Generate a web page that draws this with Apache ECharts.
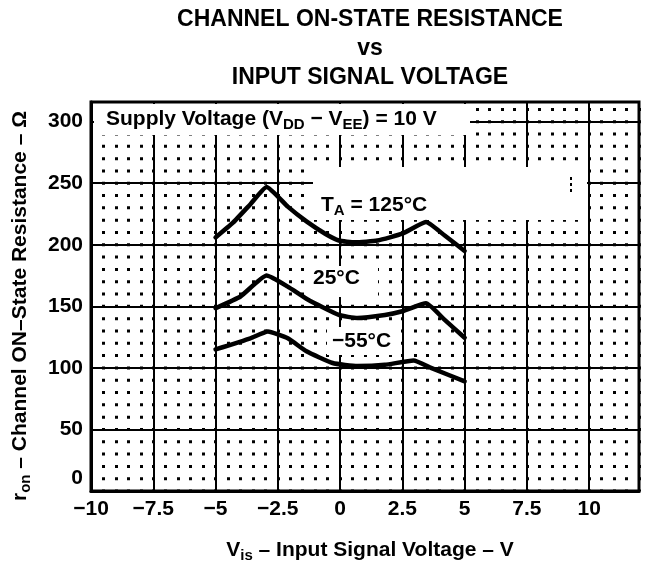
<!DOCTYPE html>
<html lang="en">
  <head>
    <meta charset="UTF-8" />
    <title>Channel ON-State Resistance vs Input Signal Voltage</title>
    <script src="https://cdn.jsdelivr.net/npm/echarts@6.0.0/dist/echarts.min.js"></script>
    <style>
      html, body { margin: 0; padding: 0; background: #fff; }
    </style>
  </head>
  <body>
    <div id="main" style="width: 646px; height: 566px"></div>
    <script type="text/javascript">
      // axis ticks
      const xTicks = [-10, -7.5, -5, -2.5, 0, 2.5, 5, 7.5, 10];
      const yTicks = [0, 50, 100, 150, 200, 250, 300];
      const xMax = 12;
      const yMax = 316;

      // TA = 125 C
      const vis125 = [-5, -4.3, -3.6, -2.95, -2.1, -1.35, -0.6, -0.05, 0.6, 1.5, 2.5, 3.45, 4.2, 5];
      const ron125 = [206, 218, 233, 247, 231, 219, 209, 203.5, 202, 203.5, 209, 218.5, 207.5, 195];
      // 25 C
      const vis25 = [-5, -4, -2.95, -2.1, -1.3, -0.05, 0.7, 1.8, 2.5, 3.45, 4.2, 5];
      const ron25 = [148.5, 158, 175, 166, 155.5, 143, 140.5, 143, 146, 152.5, 139, 124.5];
      // -55 C
      const vis55 = [-5, -3.6, -2.9, -2.1, -1.35, -0.3, 0.7, 1.8, 2.95, 3.65, 5];
      const ron55 = [115, 124, 129.5, 124, 113.5, 104, 101.5, 102.5, 106, 100, 89];

      const font = '"Liberation Sans", Arial, Helvetica, sans-serif';

      function pairs(xs, ys) {
        return xs.map((x, i) => [x, ys[i]]);
      }
      function minus(v) {
        return String(v).replace('-', '\u2212');
      }

      const gridTop = 102;
      const gridBottom = 75;
      const plotH = 566 - gridTop - gridBottom;
      const dotStep = (plotH / (yMax - yTicks[0])) * 10; // one dot every 10 ohm
      const firstDot = ((yMax % 10) / 10) * dotStep;

      const bold = { fontFamily: font, fontWeight: 'bold', fontSize: 21, color: '#000' };
      const sub = { fontFamily: font, fontWeight: 'bold', fontSize: 15, color: '#000', padding: [11, 0, 0, 0] };

      let myChart = echarts.init(document.getElementById('main'), null, { renderer: 'canvas' });

      function lineSeries(name, xs, ys) {
        return {
          name: name,
          type: 'line',
          data: pairs(xs, ys),
          symbol: 'none',
          smooth: 0.15,
          z: 5,
          lineStyle: { color: '#000', width: 4.5, cap: 'round', join: 'round' },
        };
      }

      let options = {
        backgroundColor: '#fff',
        animation: false,
        grid: {
          left: 91,
          right: 7,
          top: gridTop,
          bottom: gridBottom,
          show: true,
          borderColor: '#000',
          borderWidth: 3,
        },
        xAxis: [
          {
            type: 'value',
            min: xTicks[0],
            max: xMax,
            interval: xTicks[1] - xTicks[0],
            axisLine: { show: true, onZero: false, lineStyle: { color: '#000', width: 3 } },
            axisTick: { show: false },
            axisLabel: {
              color: '#000',
              fontFamily: font,
              fontWeight: 'bold',
              fontSize: 21,
              margin: 8,
              showMaxLabel: false,
              formatter: minus,
            },
            splitLine: { show: true, lineStyle: { color: '#000', width: 2 } },
          },
          {
            // dotted minor grid, 0.5 V apart
            type: 'value',
            min: xTicks[0],
            max: xMax,
            interval: 0.5,
            position: 'bottom',
            axisLine: { show: false },
            axisTick: { show: false },
            axisLabel: { show: false },
            splitLine: {
              show: true,
              lineStyle: {
                color: '#000',
                width: 3,
                type: [3, dotStep - 3],
                dashOffset: 1.5 - firstDot + dotStep,
              },
            },
          },
        ],
        yAxis: {
          type: 'value',
          min: yTicks[0],
          max: yMax,
          interval: yTicks[1] - yTicks[0],
          axisLine: { show: true, onZero: false, lineStyle: { color: '#000', width: 3 } },
          axisTick: { show: false },
          axisLabel: {
            color: '#000',
            fontFamily: font,
            fontWeight: 'bold',
            fontSize: 21,
            margin: 8,
            showMaxLabel: false,
            formatter: (v) => (v === 0 ? '{z|0}' : minus(v)),
            rich: { z: { fontFamily: font, fontWeight: 'bold', fontSize: 21, padding: [0, 0, 26, 0] } },
          },
          splitLine: { show: true, lineStyle: { color: '#000', width: 2 } },
        },
        graphic: [
          { type: 'rect', z: 3, shape: { x: 94, y: 104, width: 376, height: 31 }, style: { fill: '#fff' } },
          {
            type: 'text', z: 4, x: 106, y: 119,
            style: {
              text: '{b|Supply Voltage (V}{s|DD}{b| \u2212 V}{s|EE}{b|) = 10 V}',
              rich: { b: bold, s: sub },
              align: 'left', verticalAlign: 'middle',
            },
          },
          { type: 'rect', z: 3, shape: { x: 313, y: 167, width: 274, height: 53 }, style: { fill: '#fff' } },
          { type: 'line', z: 4, shape: { x1: 571, y1: 177, x2: 571, y2: 192 }, style: { stroke: '#000', lineWidth: 2, lineDash: [3, 3] } },
          {
            type: 'text', z: 4, x: 321, y: 205,
            style: { text: '{b|T}{s|A}{b| = 125\u00b0C}', rich: { b: bold, s: sub }, align: 'left', verticalAlign: 'middle' },
          },
          { type: 'rect', z: 3, shape: { x: 310, y: 266, width: 68, height: 31 }, style: { fill: '#fff' } },
          {
            type: 'text', z: 4, x: 313, y: 278,
            style: { text: '25\u00b0C', font: 'bold 21px ' + font, fill: '#000', align: 'left', verticalAlign: 'middle' },
          },
          { type: 'rect', z: 3, shape: { x: 327, y: 327, width: 72, height: 28 }, style: { fill: '#fff' } },
          {
            type: 'text', z: 4, x: 332, y: 341,
            style: { text: '\u221255\u00b0C', font: 'bold 21px ' + font, fill: '#000', align: 'left', verticalAlign: 'middle' },
          },
          // title
          {
            type: 'text', x: 370, y: 20,
            style: { text: 'CHANNEL ON-STATE RESISTANCE', font: 'bold 23px ' + font, fill: '#000', align: 'center', verticalAlign: 'middle' },
          },
          {
            type: 'text', x: 370, y: 49,
            style: { text: 'vs', font: 'bold 23px ' + font, fill: '#000', align: 'center', verticalAlign: 'middle' },
          },
          {
            type: 'text', x: 370, y: 78,
            style: { text: 'INPUT SIGNAL VOLTAGE', font: 'bold 23px ' + font, fill: '#000', align: 'center', verticalAlign: 'middle' },
          },
          // axis names
          {
            type: 'text', x: 370, y: 550,
            style: {
              text: '{b|V}{s|is}{b| \u2013 Input Signal Voltage \u2013 V}',
              rich: { b: bold, s: sub },
              align: 'center', verticalAlign: 'middle',
            },
          },
          {
            type: 'text', x: 20, y: 306, rotation: Math.PI / 2,
            style: {
              text: '{b|r}{s|on}{b| \u2013 Channel ON\u2013State Resistance \u2013 \u03a9}',
              rich: { b: bold, s: sub },
              align: 'center', verticalAlign: 'middle',
            },
          },
        ],
        series: [
          lineSeries('125', vis125, ron125),
          lineSeries('25', vis25, ron25),
          lineSeries('-55', vis55, ron55),
        ],
      };
      myChart.setOption(options);
    </script>
  </body>
</html>
